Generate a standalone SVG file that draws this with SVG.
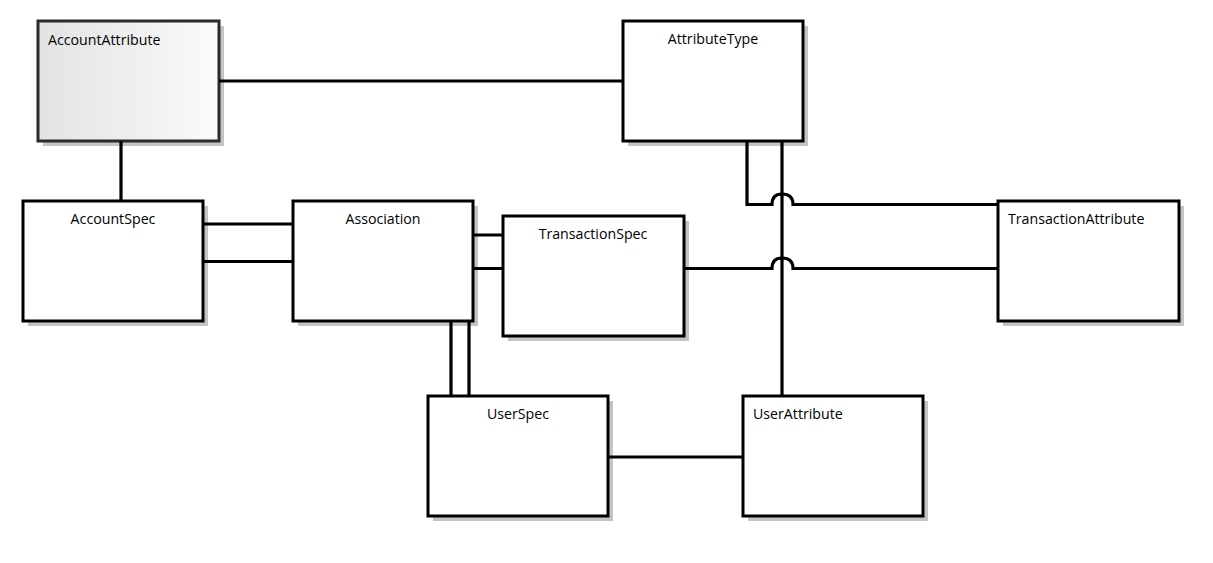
<svg xmlns="http://www.w3.org/2000/svg" width="1213" height="563" viewBox="0 0 1213 563">
<defs>
<linearGradient id="g1" x1="0" y1="0" x2="1" y2="0">
<stop offset="0" stop-color="#e3e3e3"/>
<stop offset="1" stop-color="#fafafa"/>
</linearGradient>
<style>
.sh{fill:#c4c4c4}
.bx{fill:#fff;stroke:#000;stroke-width:3}
.lb{font-family:"Open Sans","Noto Sans","Liberation Sans",sans-serif;font-size:14.2px;fill:#000}
.c{text-anchor:middle}
.ln{fill:none;stroke:#000;stroke-width:3.2}
</style>
</defs>
<rect width="1213" height="563" fill="#fff"/>
<g id="AccountAttribute">
<rect class="sh" x="43" y="26" width="181" height="120"/>
<rect x="38" y="21" width="181" height="120" fill="url(#g1)" stroke="#2a2a2a" stroke-width="3"/>
<text class="lb" x="48" y="45">AccountAttribute</text>
</g>
<g id="AttributeType">
<rect class="sh" x="628" y="26" width="180" height="120"/>
<rect class="bx" x="623" y="21" width="180" height="120"/>
<text class="lb c" x="713" y="44">AttributeType</text>
</g>
<g id="AccountSpec">
<rect class="sh" x="28" y="206" width="180" height="120"/>
<rect class="bx" x="23" y="201" width="180" height="120"/>
<text class="lb c" x="113" y="224">AccountSpec</text>
</g>
<g id="Association">
<rect class="sh" x="298" y="206" width="180" height="120"/>
<rect class="bx" x="293" y="201" width="180" height="120"/>
<text class="lb c" x="383" y="224">Association</text>
</g>
<g id="TransactionSpec">
<rect class="sh" x="508" y="221" width="181" height="120"/>
<rect class="bx" x="503" y="216" width="181" height="120"/>
<text class="lb c" x="593" y="239">TransactionSpec</text>
</g>
<g id="TransactionAttribute">
<rect class="sh" x="1003" y="206" width="181" height="120"/>
<rect class="bx" x="998" y="201" width="181" height="120"/>
<text class="lb" x="1008" y="224">TransactionAttribute</text>
</g>
<g id="UserSpec">
<rect class="sh" x="433" y="401" width="180" height="120"/>
<rect class="bx" x="428" y="396" width="180" height="120"/>
<text class="lb c" x="518" y="419">UserSpec</text>
</g>
<g id="UserAttribute">
<rect class="sh" x="748" y="401" width="180" height="120"/>
<rect class="bx" x="743" y="396" width="180" height="120"/>
<text class="lb" x="753" y="419">UserAttribute</text>
</g>
<g id="connectors">
<path class="ln" d="M219 81H623"/>
<path class="ln" d="M121 141V201"/>
<path class="ln" d="M203 224H293M203 261.5H293"/>
<path class="ln" d="M473 235H503M473 268.5H503"/>
<path class="ln" d="M451 321V396M469 321V396"/>
<path class="ln" d="M608 457H743"/>
<path class="ln" d="M782 141V396"/>
<path class="ln" d="M747 141V204.5H772Q772 194 782 194Q793 194 793 204.5H998"/>
<path class="ln" d="M684 268.5H772Q772 258 782 258Q793 258 793 268.5H998"/>
</g>
</svg>
